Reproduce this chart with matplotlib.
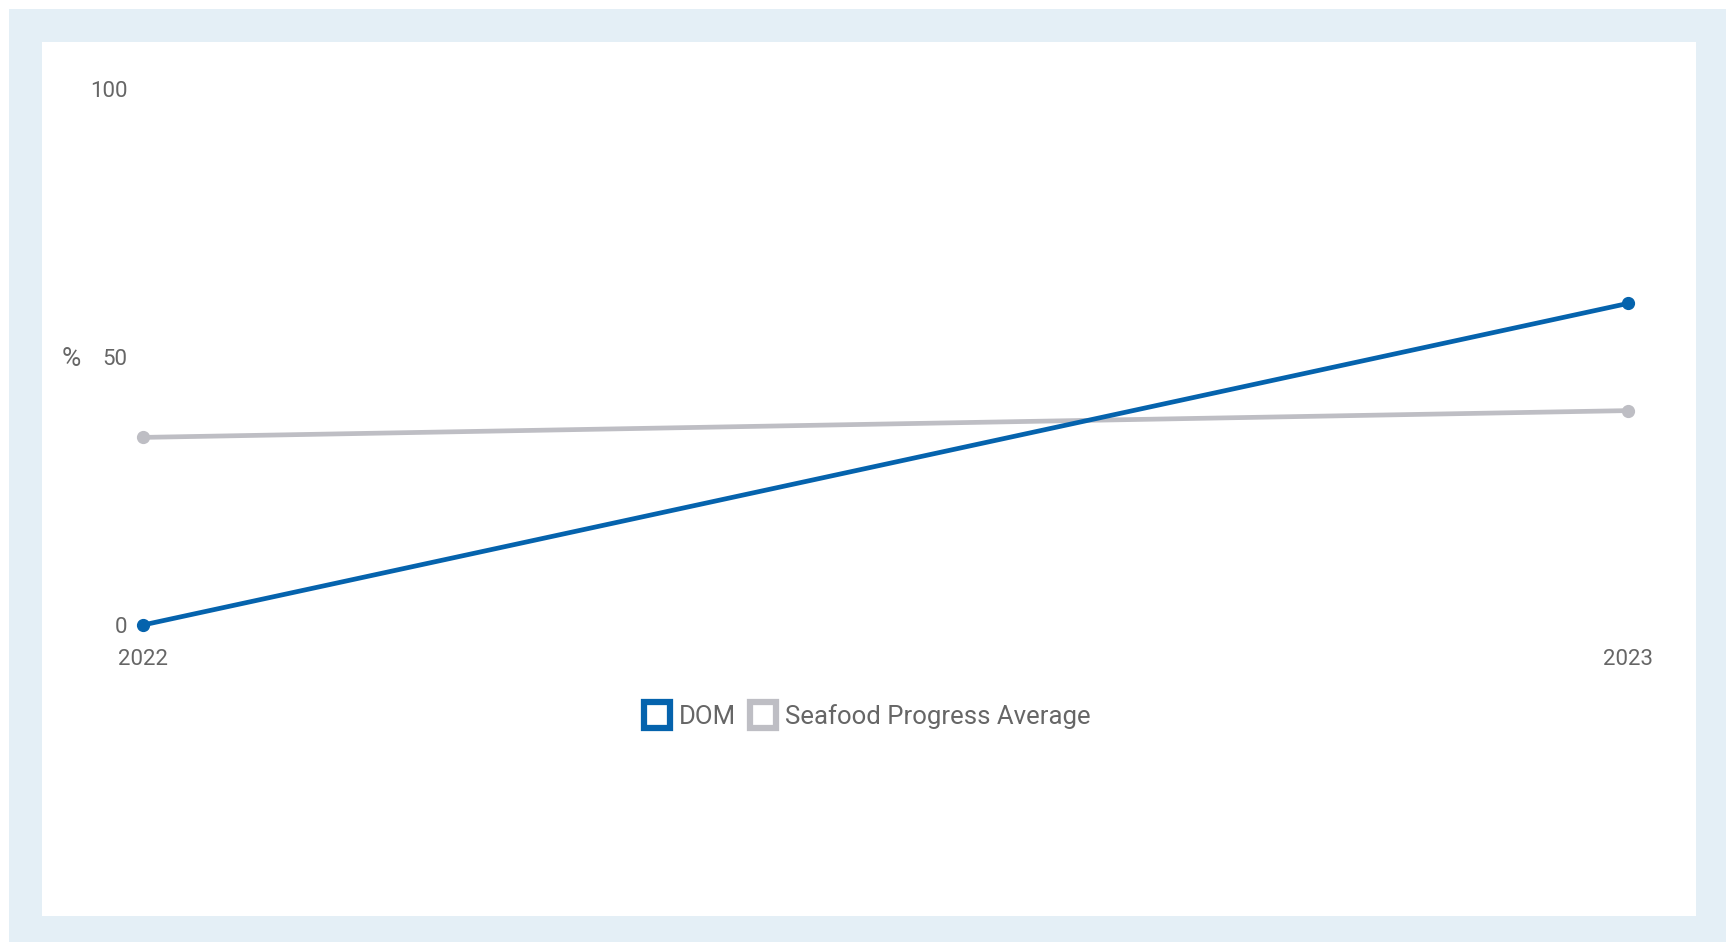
import matplotlib
matplotlib.use('Agg')
import matplotlib.pyplot as plt
from matplotlib.lines import Line2D
from matplotlib.patches import Rectangle

# values per year (%)
years = [2022, 2023]
dom = [0, 60]
seafood_avg = [35, 40]
series_names = ['DOM', 'Seafood Progress Average']

blue = '#0563ad'
grey = '#bebec4'
text_col = '#666666'
frame_col = '#e4eff6'

plt.rcParams['font.family'] = ['Roboto', 'DejaVu Sans']

W, H = 1726, 942
fig = plt.figure(figsize=(W / 100, H / 100), dpi=100)
fig.patch.set_facecolor('white')

# light blue frame with white panel inside
fig.patches.append(Rectangle((9 / W, 0), 1 - 9 / W, 1 - 9 / H, transform=fig.transFigure,
                             facecolor=frame_col, edgecolor='none', zorder=-2))
fig.patches.append(Rectangle((42 / W, 26 / H), (1696 - 42) / W, (916 - 42) / H,
                             transform=fig.transFigure, facecolor='white',
                             edgecolor='none', zorder=-1))

# axes placed so 2022..2023 and 0..100 land on the panel
x0, x1 = 143, 1628
y0, y1 = 625, 89
ax = fig.add_axes([x0 / W, (H - y0) / H, (x1 - x0) / W, (y0 - y1) / H])
ax.set_facecolor('none')

ax.plot(years, seafood_avg, color=grey, lw=3.4, marker='o', ms=8.5, clip_on=False, zorder=3)
ax.plot(years, dom, color=blue, lw=3.4, marker='o', ms=8.5, clip_on=False, zorder=4)

ax.set_xlim(2022, 2023)
ax.set_ylim(0, 100)
ax.set_xticks(years)
ax.set_xticklabels([str(y) for y in years])
ax.set_yticks([0, 50, 100])
ax.tick_params(axis='both', length=0, labelsize=16, labelcolor=text_col)
ax.tick_params(axis='y', pad=11)
ax.tick_params(axis='x', pad=17)
for s in ax.spines.values():
    s.set_visible(False)

ax.text((71 - x0) / (x1 - x0), 50, '%', transform=ax.get_yaxis_transform(),
        ha='center', va='center_baseline', fontsize=19, color=text_col)

handles = [
    Line2D([], [], ls='none', marker='s', ms=19, mfc='white', mec=blue, mew=4.5),
    Line2D([], [], ls='none', marker='s', ms=19, mfc='white', mec=grey, mew=4.5),
]
leg = fig.legend(handles, series_names, loc='center', ncol=2,
                 bbox_to_anchor=(867 / W, (H - 717) / H), frameon=False,
                 fontsize=18.5, handletextpad=0.3, columnspacing=0.5,
                 handlelength=1.1, borderpad=0)
for t in leg.get_texts():
    t.set_color(text_col)

fig.savefig('out.png', dpi=100, facecolor=fig.get_facecolor())
